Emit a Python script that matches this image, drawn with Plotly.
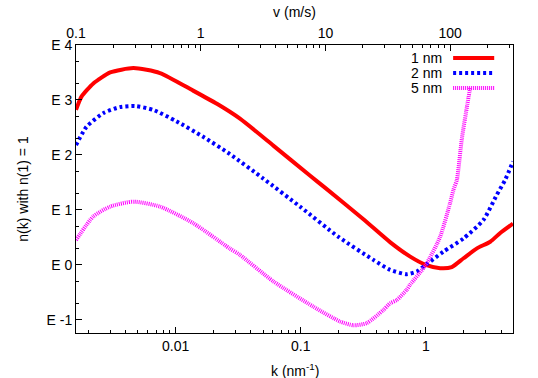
import math
import plotly.graph_objects as go

# ---- data ----
k_1nm = [0.0016, 0.00177, 0.0022, 0.003, 0.0046, 0.0075, 0.0138, 0.0214, 0.0327, 0.0604, 0.119, 0.157,
         0.317, 0.52, 0.75, 1.0, 1.3, 1.61, 2.0, 2.56, 3.27, 3.93, 4.97]
n_1nm = [2.82, 3.06, 3.30, 3.50, 3.58, 3.49, 3.17, 2.93, 2.66, 2.17, 1.62, 1.40,
         0.83, 0.41, 0.15, 0.0, -0.06, -0.04, 0.12, 0.30, 0.42, 0.58, 0.75]

k_2nm = [0.0016, 0.00194, 0.00264, 0.00358, 0.00472, 0.00662, 0.0102, 0.0166, 0.027, 0.0502,
         0.0987, 0.2, 0.381, 0.518, 0.705, 0.847, 1.0, 1.38, 2.0, 2.89, 3.68, 4.31, 4.97]
n_2nm = [2.18, 2.51, 2.76, 2.87, 2.89, 2.82, 2.61, 2.33, 2.02, 1.57,
         1.06, 0.51, 0.09, -0.09, -0.17, -0.12, 0.0, 0.24, 0.48, 0.82, 1.27, 1.55, 1.88]

k_5nm = [0.0016, 0.0022, 0.003, 0.0046, 0.0075, 0.0138, 0.027, 0.0327, 0.0604, 0.126, 0.206,
         0.264, 0.337, 0.458, 0.518, 0.586, 0.705, 0.749, 1.0, 1.3, 1.56, 1.66, 1.77, 1.94, 2.15, 2.26]
n_5nm = [0.45, 0.88, 1.06, 1.15, 1.06, 0.76, 0.30, 0.18, -0.30, -0.76, -1.03,
         -1.10, -1.06, -0.82, -0.70, -0.64, -0.45, -0.36, 0.0, 0.51, 1.12, 1.36, 1.55, 2.30, 2.93, 3.22]

k_range = [0.0016, 4.97]
v_range = [0.1, 319.0]

k_ticks = [0.01, 0.1, 1]
k_ticktext = ["0.01", "0.1", "1"]
v_ticks = [0.1, 1, 10, 100]
v_ticktext = ["0.1", "1", "10", "100"]
y_ticks = [-1, 0, 1, 2, 3, 4]
y_ticktext = ["E -1", "E 0", "E 1", "E 2", "E 3", "E 4"]
y_range = [-1.24, 4]

series_names = ["1 nm", "2 nm", "5 nm"]
series_colors = ["#ff0000", "#0000ff", "#ff00ff"]
series_dash = ["solid", "3px,3px", "1px,1px"]

FONT = "Liberation Sans, Arial, Helvetica, sans-serif"
FS = 14


def log_minors(lo, hi):
    out = []
    e = math.floor(math.log10(lo))
    while 10 ** e <= hi:
        for m in range(2, 10):
            v = m * 10 ** e
            if lo <= v <= hi:
                out.append(v)
        e += 1
    return out


y_minor = []
for n in range(-2, 5):
    for off in (math.log10(2), math.log10(5)):
        v = n + off
        if y_range[0] <= v <= y_range[1]:
            y_minor.append(v)

fig = go.Figure()
data = [(k_1nm, n_1nm), (k_2nm, n_2nm), (k_5nm, n_5nm)]
for (kx, ny), name, col, dash in zip(data, series_names, series_colors, series_dash):
    fig.add_trace(go.Scatter(x=kx, y=ny, mode="lines", name=name,
                             line=dict(color=col, width=4, dash=dash, shape="spline", smoothing=0.6),
                             showlegend=False, hoverinfo="skip"))

# invisible carrier traces for the extra axes (top velocity axis, minor-tick axes)
invis = dict(mode="markers", marker=dict(opacity=0, size=1), showlegend=False, hoverinfo="skip")
fig.add_trace(go.Scatter(x=v_range, y=[0, 0], xaxis="x2", yaxis="y", **invis))
fig.add_trace(go.Scatter(x=k_range, y=[0, 0], xaxis="x3", yaxis="y", **invis))
fig.add_trace(go.Scatter(x=v_range, y=[0, 0], xaxis="x4", yaxis="y", **invis))
fig.add_trace(go.Scatter(x=k_range, y=y_range, xaxis="x", yaxis="y2", **invis))

tick_common = dict(showgrid=False, zeroline=False, ticks="inside", tickwidth=1, tickcolor="#000000",
                   automargin=False)
major = dict(showline=True, linecolor="#000000", linewidth=1, ticklen=6,
             tickfont=dict(family=FONT, size=FS, color="black"), **tick_common)
minor = dict(showline=False, ticklen=3, showticklabels=False, tickmode="array", **tick_common)

k_log = [math.log10(k_range[0]), math.log10(k_range[1])]
v_log = [math.log10(v_range[0]), math.log10(v_range[1])]

fig.update_layout(
    template="none",
    width=538, height=378,
    margin=dict(l=76, r=25, t=45, b=45),
    paper_bgcolor="white", plot_bgcolor="white",
    font=dict(family=FONT, size=FS, color="black"),
    xaxis=dict(type="log", range=k_log, tickmode="array", tickvals=k_ticks, ticktext=k_ticktext,
               mirror=False, **major),
    xaxis2=dict(type="log", overlaying="x", side="top", anchor="y", range=v_log,
                tickmode="array", tickvals=v_ticks, ticktext=v_ticktext,
                title=dict(text="v (m/s)", standoff=4, font=dict(family=FONT, size=FS)),
                **major),
    xaxis3=dict(type="log", overlaying="x", side="bottom", anchor="y", range=k_log,
                tickvals=log_minors(*k_range), **minor),
    xaxis4=dict(type="log", overlaying="x", side="top", anchor="y", range=v_log,
                tickvals=log_minors(*v_range), **minor),
    yaxis=dict(range=y_range, tickmode="array", tickvals=y_ticks, ticktext=y_ticktext,
               title=dict(text="n(k) with n(1) = 1", standoff=14, font=dict(family=FONT, size=FS)),
               mirror=True, **major),
    yaxis2=dict(overlaying="y", side="left", anchor="x", range=y_range,
                tickvals=y_minor, **minor),
)

# bottom axis title, placed a little lower than plotly's margin-bound default
fig.add_annotation(x=0.5, y=-0.128, xref="paper", yref="paper", text="k (nm<sup>-1</sup>)",
                   showarrow=False, xanchor="center", yanchor="middle",
                   font=dict(family=FONT, size=FS, color="black"))

# gnuplot-style key: label right-aligned, sample line to its right
row_y = [0.955, 0.903, 0.851]
for name, col, dash, yy in zip(series_names, series_colors, series_dash, row_y):
    fig.add_annotation(x=0.840, y=yy, xref="paper", yref="paper", text=name, showarrow=False,
                       xanchor="right", yanchor="middle", height=14, borderpad=0,
                       font=dict(family=FONT, size=FS, color="black"))
    fig.add_shape(type="line", xref="paper", yref="paper", x0=0.863, x1=0.957, y0=yy, y1=yy,
                  line=dict(color=col, width=4, dash=dash))

# remove the default page margin so the figure sits at the window's top-left corner
fig.write_html("out.html", config={"displayModeBar": False},
               post_script="document.body.style.margin='0';document.body.style.padding='0';")
